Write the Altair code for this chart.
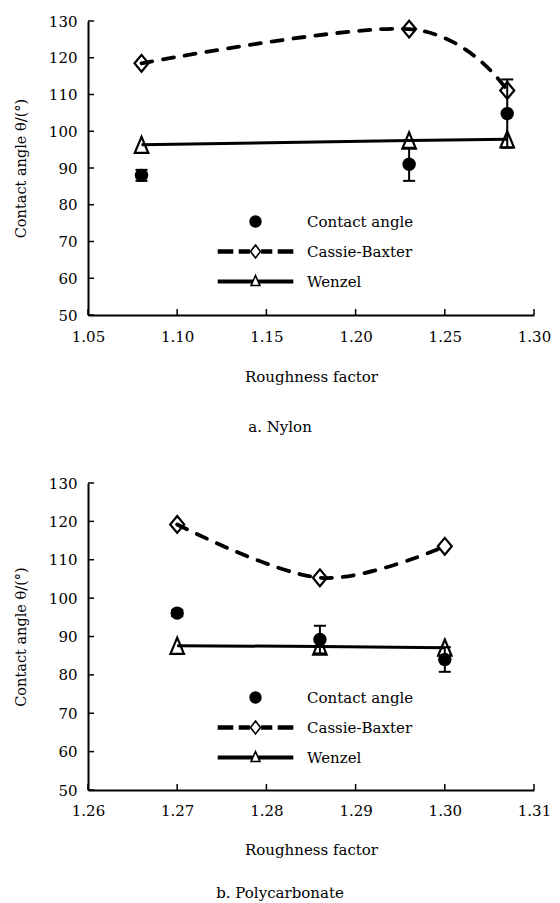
import altair as alt
import pandas as pd

FONT = "DejaVu Serif"

series_names = ["Contact angle", "Cassie-Baxter", "Wenzel"]

# a. Nylon
nylon_x = [1.08, 1.23, 1.285]
nylon_contact = [88.0, 91.0, 104.8]
nylon_err = [1.5, 4.5, 9.3]
nylon_cb = [118.5, 127.8, 111.1]
nylon_wenzel = [96.3, 97.5, 97.8]
nylon_xticks = [1.05, 1.10, 1.15, 1.20, 1.25, 1.30]

# b. Polycarbonate
pc_x = [1.27, 1.286, 1.30]
pc_contact = [96.1, 89.2, 84.0]
pc_err = [0.8, 3.6, 3.2]
pc_cb = [119.2, 105.3, 113.5]
pc_wenzel = [87.6, 87.4, 87.1]
pc_xticks = [1.26, 1.27, 1.28, 1.29, 1.30, 1.31]

y_ticks = [50, 60, 70, 80, 90, 100, 110, 120, 130]

DIAMOND = "M0,-1.2L1,0L0,1.2L-1,0Z"
TRIANGLE = "M0,-1.2L1,1.2L-1,1.2Z"


def seg(x0, x1, a, b):
    return (f"M{x0},{-b}L{x1},{-b}L{x1},{-a}L{x0},{-a}Z"
            f"M{x0},{a}L{x1},{a}L{x1},{b}L{x0},{b}Z")


# legend symbols (line + marker), unit = sqrt(size)/2 px
LEG_CIRCLE = "M1.35,0A1.35,1.35 0 1,1 -1.35,0A1.35,1.35 0 1,1 1.35,0Z"
LEG_CB = (seg(-9.25, -5.75, 0.1, 0.35) + seg(-4, -1.6, 0.1, 0.35)
          + seg(1.6, 4, 0.1, 0.35) + seg(5.75, 9.25, 0.1, 0.35)
          + "M0,-1.6L1.25,0L0,1.6L-1.25,0Z")
LEG_WZ = (seg(-9.25, -0.8, 0.1, 0.3) + seg(0.8, 9.25, 0.1, 0.3)
          + "M0,-1.5L1.1,1L-1.1,1Z")

W = 446


def panel(xs, contact, err, cb, wz, xticks, H, caption, legend_y, cap_offset, lab_pad, tit_pad):
    xdom = [xticks[0], xticks[-1]]
    xs_scale = alt.Scale(domain=xdom, nice=False, zero=False)
    ys_scale = alt.Scale(domain=[50, 130], nice=False, zero=False)

    df = pd.DataFrame({
        "x": xs, "contact": contact, "lo": [c - e for c, e in zip(contact, err)],
        "hi": [c + e for c, e in zip(contact, err)], "cb": cb, "wz": wz,
    })

    xaxis = alt.Axis(values=xticks, format=".2f", tickSize=0, title="Roughness factor",
                     labelPadding=lab_pad, titlePadding=tit_pad, labelFlush=False,
                     labelOverlap=False, grid=False, titleFontSize=15)
    yaxis = alt.Axis(values=y_ticks, format="d", tickSize=0, title="Contact angle θ/(°)",
                     labelPadding=11, titlePadding=20, labelFlush=False,
                     labelOverlap=False, grid=False, titleFontSize=14.5)

    def X(f="x"):
        return alt.X(f"{f}:Q", scale=xs_scale, axis=xaxis)

    def Y(f):
        return alt.Y(f"{f}:Q", scale=ys_scale, axis=yaxis)

    base = alt.Chart(df)

    wz_line = base.mark_line(color="black", strokeWidth=3).encode(x=X(), y=Y("wz"))
    wz_pts = base.mark_point(shape=TRIANGLE, size=182, filled=False, stroke="black",
                             strokeWidth=2.2, opacity=1).encode(x=X(), y=Y("wz"))
    cb_line = base.mark_line(color="black", strokeWidth=3.8, strokeDash=[11, 11],
                             strokeCap="round", interpolate="cardinal", tension=0).encode(
        x=X(), y=Y("cb"))
    cb_pts = base.mark_point(shape=DIAMOND, size=196, filled=False, stroke="black",
                             strokeWidth=2.2, opacity=1).encode(x=X(), y=Y("cb"))
    err_rule = base.mark_rule(color="black", strokeWidth=2).encode(
        x=X(), y=Y("lo"), y2="hi:Q")
    cap_lo = base.mark_tick(orient="horizontal", color="black", size=12, thickness=2,
                            opacity=1).encode(x=X(), y=Y("lo"))
    cap_hi = base.mark_tick(orient="horizontal", color="black", size=12, thickness=2,
                            opacity=1).encode(x=X(), y=Y("hi"))
    ct_pts = base.mark_point(shape="circle", size=180, filled=True, color="black",
                             opacity=1).encode(x=X(), y=Y("contact"))

    xt = alt.Chart(pd.DataFrame({"t": xticks})).mark_rule(color="black", strokeWidth=1.5).encode(
        x=X("t"), y=alt.value(H), y2=alt.value(H - 6))
    yt = alt.Chart(pd.DataFrame({"t": y_ticks})).mark_rule(color="black", strokeWidth=1.5).encode(
        y=Y("t"), x=alt.value(0), x2=alt.value(6))

    leg = alt.Legend(title=None, orient="none", legendX=160, legendY=legend_y,
                     labelFont=FONT, labelFontSize=15, labelColor="black",
                     labelOffset=44, rowPadding=10, symbolSize=64, symbolStrokeColor="black",
                     symbolStrokeWidth=1.6, symbolOpacity=1)
    legend_layer = alt.Chart(pd.DataFrame({"series": series_names})).transform_filter(
        "false").mark_point(filled=True, size=64, stroke="black", strokeWidth=1.6, opacity=1).encode(
        shape=alt.Shape("series:N", scale=alt.Scale(domain=series_names,
                                                     range=[LEG_CIRCLE, LEG_CB, LEG_WZ]), legend=leg),
        fill=alt.Fill("series:N", scale=alt.Scale(domain=series_names,
                                                   range=["black", "white", "white"]), legend=leg),
        stroke=alt.Stroke("series:N", scale=alt.Scale(domain=series_names,
                                                       range=["black", "black", "black"]), legend=leg),
    )

    return alt.layer(wz_line, cb_line, err_rule, cap_lo, cap_hi, ct_pts, cb_pts, wz_pts,
                     xt, yt, legend_layer).properties(
        width=W, height=H,
        title=alt.TitleParams(caption, orient="bottom", anchor="middle", dx=-31,
                              offset=cap_offset, font=FONT, fontSize=15,
                              fontWeight="normal", color="black"),
    )


top = panel(nylon_x, nylon_contact, nylon_err, nylon_cb, nylon_wenzel, nylon_xticks,
            294, "a. Nylon", 193, 35, 14.5, 25)
bottom = panel(pc_x, pc_contact, pc_err, pc_cb, pc_wenzel, pc_xticks,
               307, "b. Polycarbonate", 207, 28, 13.5, 24)

chart = alt.vconcat(top, bottom, spacing=41).resolve_scale(
    shape="independent", fill="independent", stroke="independent"
).resolve_legend(shape="independent", fill="independent", stroke="independent").properties(
    padding={"left": 5, "top": 6, "right": 0, "bottom": 0}
).configure_axis(
    labelFont=FONT, titleFont=FONT, labelFontSize=15, titleFontSize=15,
    titleFontWeight="normal", labelColor="black", titleColor="black",
    domainColor="black", domainWidth=2,
).configure_view(strokeWidth=0)

chart.save("out.html", embed_options={"renderer": "svg", "actions": False})
